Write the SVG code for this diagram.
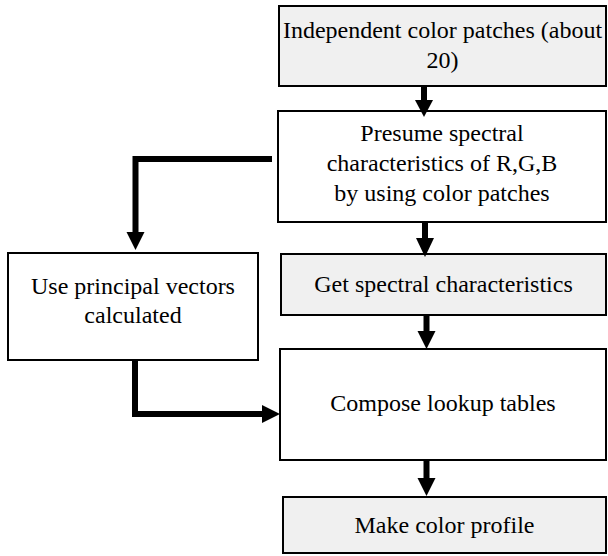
<svg xmlns="http://www.w3.org/2000/svg" width="608" height="556" viewBox="0 0 608 556">
<style>
.box{stroke:#000;stroke-width:2}
.g{fill:#f0f0f0}
.w{fill:#fff}
text{font-family:"Liberation Serif","Times New Roman",serif;font-size:24px;fill:#000;text-anchor:middle}
.c{fill:none;stroke:#000;stroke-width:6}
.h{fill:#000}
</style>
<rect width="608" height="556" fill="#fff"/>
<g id="n1"><rect class="box g" x="279" y="6" width="327" height="80"/>
<text x="442.5" y="38">Independent color patches (about</text><text x="442.5" y="68">20)</text></g>
<g id="n2"><rect class="box w" x="278" y="111" width="328" height="111"/>
<text x="442" y="141">Presume spectral</text><text x="442" y="171">characteristics of R,G,B</text><text x="442" y="201">by using color patches</text></g>
<g id="n3"><rect class="box g" x="281" y="254" width="325" height="61"/>
<text x="443.5" y="292">Get spectral characteristics</text></g>
<g id="n4"><rect class="box w" x="280" y="349" width="326" height="111"/>
<text x="443" y="411">Compose lookup tables</text></g>
<g id="n5"><rect class="box g" x="283" y="497" width="323" height="56"/>
<text x="444.5" y="533">Make color profile</text></g>
<g id="n6"><rect class="box w" x="8" y="253" width="250" height="107"/>
<text x="133" y="294">Use principal vectors</text><text x="133" y="323">calculated</text></g>
<g id="connectors">
<line class="c" x1="424" y1="86" x2="424" y2="101"/><polygon class="h" points="415,100 433,100 424,117"/>
<line class="c" x1="425" y1="222" x2="425" y2="239"/><polygon class="h" points="416,238 434,238 425,257"/>
<line class="c" x1="426.5" y1="315" x2="426.5" y2="332"/><polygon class="h" points="417.5,331 435.5,331 426.5,349"/>
<line class="c" x1="426.5" y1="460" x2="426.5" y2="479"/><polygon class="h" points="417.5,478 435.5,478 426.5,496"/>
<polyline class="c" points="272,159 135.5,159 135.5,233"/><polygon class="h" points="126.5,232 144.5,232 135.5,250"/>
<polyline class="c" points="135,360 135,414 263,414"/><polygon class="h" points="262,405 262,423 280,414"/>
</g>
</svg>
